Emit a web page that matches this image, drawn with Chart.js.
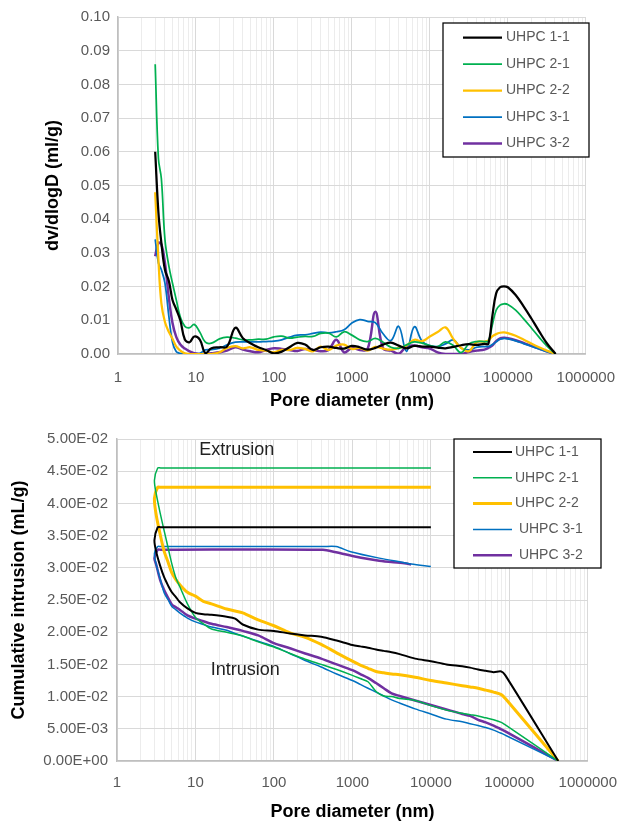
<!DOCTYPE html>
<html>
<head>
<meta charset="utf-8">
<script src="https://cdn.jsdelivr.net/npm/chart.js@4.4.1/dist/chart.umd.min.js"></script>
<style>
  body { margin: 0; background: #fff; }
  #wrap { position: relative; width: 630px; height: 821px; }
  canvas { position: absolute; left: 0; }
</style>
</head>
<body>
<div id="wrap">
  <canvas id="psdChart" width="630" height="410" style="top:0"></canvas>
  <canvas id="intrusionChart" width="630" height="411" style="top:410px"></canvas>
</div>
<script>
// ---- data ----
var seriesNames = ['UHPC 1-1', 'UHPC 2-1', 'UHPC 2-2', 'UHPC 3-1', 'UHPC 3-2'];
var seriesNamesBottom = ['UHPC 1-1', 'UHPC 2-1', 'UHPC 2-2', ' UHPC 3-1', ' UHPC 3-2'];
var seriesColors = ['#000000', '#00b050', '#ffc000', '#0070c0', '#7030a0'];

// top chart: dv/dlogD against pore diameter (nm)
var poreDiameterTop = [3, 3.3, 3.6, 4, 4.5, 5, 5.6, 6.3, 7.2, 8.3, 9.5, 11.2, 13.2, 15.8, 20, 25, 32, 40, 50, 63, 79,
  100, 126, 158, 200, 251, 316, 398, 501, 631, 794, 1000, 1259, 1585, 1995, 2512, 3162, 3981, 5012, 6310, 7943,
  10000, 12589, 15849, 19953, 25119, 31623, 39811, 50119, 56234, 63096, 70795, 79433, 89125,
  100000, 125893, 158489, 199526, 251189, 316228, 410000];
var dvUHPC11 = [0.060, 0.042, 0.033, 0.025, 0.0216, 0.016, 0.0132, 0.010, 0.0043, 0.0035, 0.0052, 0.0043, 0.0003, 0.0017,
  0.002, 0.0022, 0.0078, 0.0047, 0.0032, 0.002, 0.0012, 0.0002, 0.0007, 0.002, 0.0033, 0.0028, 0.0012, 0.002, 0.0022,
  0.0018, 0.0016, 0.0024, 0.002, 0.0013, 0.0018, 0.0028, 0.0034, 0.0025, 0.0017, 0.0024, 0.0022, 0.0022, 0.0019, 0.0017,
  0.0021, 0.0026, 0.0029, 0.0027, 0.003, 0.003, 0.011, 0.018, 0.0198, 0.0201, 0.0198, 0.0175, 0.0142, 0.0106, 0.0068,
  0.0032, 0];
var dvUHPC21 = [0.086, 0.058, 0.052, 0.034, 0.026, 0.021, 0.016, 0.011, 0.0082, 0.0078, 0.0088, 0.0065, 0.0035, 0.0032,
  0.0045, 0.005, 0.0047, 0.0042, 0.0042, 0.0044, 0.0044, 0.0051, 0.0053, 0.0047, 0.005, 0.0052, 0.0052, 0.0061, 0.0062,
  0.0051, 0.0066, 0.0056, 0.0042, 0.0037, 0.0046, 0.0035, 0.002, 0.0017, 0.0027, 0.0036, 0.0032, 0.0025, 0.0022, 0.0036,
  0.0025, 0.0004, 0.003, 0.0037, 0.0037, 0.0038, 0.0085, 0.013, 0.0145, 0.0149, 0.0147, 0.013, 0.0105, 0.0078, 0.005,
  0.0024, 0];
var dvUHPC22 = [0.048, 0.028, 0.015, 0.0095, 0.0065, 0.0045, 0.0022, 0.001, 0.0002, 0, 0, 0, 0, 0, 0.0005, 0.0018,
  0.0023, 0.0017, 0.002, 0.0012, 0.001, 0.0005, 0.0012, 0.0012, 0.0018, 0.0015, 0.0008, 0.0022, 0.0012, 0.0025, 0.0028,
  0.0015, 0.0018, 0.001, 0.0021, 0.0016, 0.0013, 0.0018, 0.0025, 0.0042, 0.0038, 0.0052, 0.0065, 0.0079, 0.0045, 0.0018,
  0.0008, 0.0035, 0.0037, 0.004, 0.0052, 0.0059, 0.0063, 0.0064, 0.0062, 0.0054, 0.0043, 0.0031, 0.002, 0.001, 0];
var dvUHPC31 = [0.034, 0.027, 0.025, 0.021, 0.011, 0.0035, 0.0007, 0.0002, 0, 0, 0, 0.0002, 0.0012, 0.0013, 0.0017,
  0.0027, 0.0035, 0.0036, 0.0036, 0.0036, 0.0037, 0.0038, 0.0042, 0.005, 0.0056, 0.0057, 0.0061, 0.0065, 0.0063, 0.0066,
  0.0072, 0.0092, 0.0102, 0.0097, 0.0093, 0.006, 0.004, 0.0082, 0.0008, 0.0081, 0.0038, 0.0025, 0.0022, 0.003, 0.0042,
  0.0018, 0.0012, 0.002, 0.0022, 0.0022, 0.0028, 0.0036, 0.0044, 0.0046, 0.0045, 0.0039, 0.0031, 0.0023, 0.0015, 0.0007, 0];
var dvUHPC32 = [0.029, 0.033, 0.0325, 0.027, 0.0165, 0.0092, 0.005, 0.0028, 0.0016, 0.0008, 0.0002, 0, 0, 0.0002, 0.0005,
  0.001, 0.002, 0.0013, 0.0008, 0.0005, 0.0012, 0.0017, 0.0015, 0.0012, 0.0009, 0.0015, 0.0012, 0.0008, 0.0012, 0.0042,
  0.0005, 0.0018, 0.0012, 0.0014, 0.0125, 0.0017, 0.001, 0.0001, 0.0022, 0.0025, 0.002, 0.0016, 0.0005, 0, 0, 0, 0.0006,
  0.001, 0.0013, 0.0018, 0.0025, 0.0038, 0.0046, 0.0048, 0.0047, 0.0041, 0.0033, 0.0024, 0.0016, 0.0008, 0];

// bottom chart: intrusion (large -> small pores), then extrusion back out to 10000 nm
var intrusionDiameter = [420000, 89000, 79000, 63000, 50000, 40000, 31600, 25100, 15800, 10000, 6300, 4000, 3160, 2510,
  2000, 1580, 1260, 1000, 630, 400, 250, 160, 100, 63, 40, 32, 25, 16, 12.6, 10, 7.9, 6.3, 5.6, 5.0, 4.5, 4.0, 3.55, 3.16, 3.0];
var intrUHPC11 = [0, 0.0133, 0.0139, 0.0138, 0.0140, 0.0142, 0.0145, 0.0147, 0.0150, 0.0155, 0.0159, 0.0166, 0.0169,
  0.0171, 0.0173, 0.0176, 0.0178, 0.0180, 0.0187, 0.0193, 0.0195, 0.0198, 0.0202, 0.0204, 0.0212, 0.0221, 0.0224, 0.0227,
  0.0228, 0.0230, 0.0237, 0.0247, 0.0255, 0.0262, 0.0272, 0.0285, 0.0303, 0.0325, 0.0343];
var intrUHPC21 = [0, 0.0056, 0.0060, 0.0064, 0.0067, 0.0070, 0.0072, 0.0074, 0.0079, 0.0086, 0.0094, 0.0097, 0.0100,
  0.0101, 0.0108, 0.0123, 0.0128, 0.0133, 0.0142, 0.0150, 0.0158, 0.0167, 0.0177, 0.0185, 0.0194, 0.0197, 0.0200, 0.0205,
  0.0213, 0.0223, 0.0244, 0.0271, 0.0285, 0.0306, 0.0330, 0.0357, 0.0385, 0.0415, 0.0436];
var intrUHPC22 = [0, 0.0097, 0.0103, 0.0107, 0.0110, 0.0113, 0.0115, 0.0117, 0.0121, 0.0125, 0.0130, 0.0134, 0.0135,
  0.0137, 0.0139, 0.0144, 0.0149, 0.0155, 0.0168, 0.0181, 0.0192, 0.0199, 0.0210, 0.0219, 0.0230, 0.0233, 0.0236, 0.0244,
  0.0248, 0.0256, 0.0262, 0.0274, 0.0282, 0.0292, 0.0308, 0.0325, 0.0352, 0.0382, 0.0408];
var intrUHPC31 = [0, 0.0040, 0.0043, 0.0048, 0.0052, 0.0055, 0.0058, 0.0061, 0.0065, 0.0073, 0.0081, 0.0090, 0.0095,
  0.0101, 0.0107, 0.0113, 0.0119, 0.0125, 0.0135, 0.0146, 0.0156, 0.0167, 0.0178, 0.0186, 0.0194, 0.0198, 0.0203, 0.0208,
  0.0212, 0.0216, 0.0222, 0.0230, 0.0235, 0.0240, 0.0250, 0.0261, 0.0283, 0.0305, 0.0322];
var intrUHPC32 = [0, 0.0046, 0.0049, 0.0055, 0.0060, 0.0064, 0.0070, 0.0073, 0.0080, 0.0087, 0.0094, 0.0101, 0.0105,
  0.0113, 0.0121, 0.0129, 0.0135, 0.0141, 0.0150, 0.0159, 0.0167, 0.0175, 0.0183, 0.0195, 0.0202, 0.0205, 0.0208, 0.0213,
  0.0217, 0.0221, 0.0226, 0.0235, 0.0239, 0.0243, 0.0253, 0.0265, 0.0281, 0.0305, 0.0315];

var extrusionDiameter = [3.3, 3.6, 420, 620, 950, 2200, 4600, 5600, 10000];
var extrUHPC11 = [0.0363, 0.0363, 0.0363, 0.0363, 0.0363, 0.0363, 0.0363, 0.0363, 0.0363];
var extrUHPC21 = [0.0455, 0.0455, 0.0455, 0.0455, 0.0455, 0.0455, 0.0455, 0.0455, 0.0455];
var extrUHPC22 = [0.0425, 0.0425, 0.0425, 0.0425, 0.0425, 0.0425, 0.0425, 0.0425, 0.0425];
var extrUHPC31 = [0.0333, 0.0333, 0.0333, 0.0333, 0.0325, 0.0315, 0.0308, 0.0306, 0.0302];
var extrUHPC32 = [0.0328, 0.0328, 0.0328, 0.0324, 0.0319, 0.0311, 0.0307, 0.0305, null];

var yTicksTop = { min: 0, max: 0.1, step: 0.01 };
var yTicksBottom = { min: 0, max: 0.05, step: 0.005 };

// log axis ticks 1..9 x 10^n, labels only at decades
var xTickValues = [];
for (var e = 0; e < 6; e++) {
  for (var m = 1; m < 10; m++) xTickValues.push(m * Math.pow(10, e));
}
xTickValues.push(1000000);

// ---- helpers ----
Chart.defaults.font.family = '"Liberation Sans", Arial, sans-serif';
Chart.defaults.color = '#595959';

function isDecade(v) {
  var l = Math.log10(v);
  return Math.abs(l - Math.round(l)) < 1e-9;
}

function toPoints(xs, ys) {
  return xs.map(function(x, i) { return { x: x, y: ys[i] }; });
}

function sciLabel(v) {
  if (Math.abs(v) < 1e-12) return '0.00E+00';
  var ex = Math.floor(Math.log10(Math.abs(v)) + 1e-9);
  var mant = v / Math.pow(10, ex);
  var s = String(Math.abs(ex));
  if (s.length < 2) s = '0' + s;
  return mant.toFixed(2) + 'E' + (ex < 0 ? '-' : '+') + s;
}

function xScale(labelPad, axisHeight) {
  return {
    type: 'logarithmic',
    min: 1,
    max: 1000000,
    afterBuildTicks: function(scale) {
      scale.ticks = xTickValues.map(function(v) { return { value: v, major: isDecade(v) }; });
    },
    afterFit: function(scale) { scale.height = axisHeight; },
    ticks: {
      autoSkip: false,
      maxRotation: 0,
      padding: labelPad,
      font: { size: 15 },
      color: '#595959',
      callback: function(value) { return isDecade(value) ? String(Math.round(value)) : ''; }
    },
    grid: {
      drawTicks: false,
      color: function(c) { return c.tick && c.tick.major ? '#d9d9d9' : '#ececec'; }
    },
    border: { color: '#bfbfbf', width: 1.5 },
    title: {
      display: true,
      text: 'Pore diameter (nm)',
      color: '#000',
      font: { size: 18, weight: 'bold', lineHeight: 1 },
      padding: { top: 0, bottom: 0 }
    }
  };
}

var boxLegend = {
  id: 'boxLegend',
  afterDraw: function(chart, args, opts) {
    var ctx = chart.ctx;
    ctx.save();
    ctx.fillStyle = '#ffffff';
    ctx.fillRect(opts.x, opts.y, opts.w, opts.h);
    ctx.strokeStyle = '#000000';
    ctx.lineWidth = 1.25;
    ctx.strokeRect(opts.x, opts.y, opts.w, opts.h);
    ctx.font = '14px "Liberation Sans", Arial, sans-serif';
    ctx.textBaseline = 'middle';
    chart.data.datasets.forEach(function(ds, i) {
      var y = opts.firstRow + i * opts.rowGap;
      ctx.strokeStyle = ds.borderColor;
      ctx.lineWidth = ds.borderWidth;
      ctx.beginPath();
      ctx.moveTo(opts.lineX1, y);
      ctx.lineTo(opts.lineX2, y);
      ctx.stroke();
      ctx.fillStyle = '#595959';
      ctx.fillText(ds.label, opts.textX, y);
    });
    ctx.restore();
  }
};

var notes = {
  id: 'notes',
  afterDatasetsDraw: function(chart, args, opts) {
    if (!opts.items) return;
    var ctx = chart.ctx, xs = chart.scales.x, ys = chart.scales.y;
    ctx.save();
    ctx.font = '18px "Liberation Sans", Arial, sans-serif';
    ctx.fillStyle = '#222222';
    ctx.textBaseline = 'middle';
    opts.items.forEach(function(n) {
      ctx.fillText(n.text, xs.getPixelForValue(n.x), ys.getPixelForValue(n.y));
    });
    ctx.restore();
  }
};

// ---- top chart ----
var topValues = [dvUHPC11, dvUHPC21, dvUHPC22, dvUHPC31, dvUHPC32];
var topWidths = [2.25, 1.75, 2.25, 1.75, 2.5];

new Chart(document.getElementById('psdChart').getContext('2d'), {
  type: 'line',
  data: {
    datasets: topValues.map(function(vals, i) {
      return {
        label: seriesNames[i],
        data: toPoints(poreDiameterTop, vals),
        borderColor: seriesColors[i],
        backgroundColor: seriesColors[i],
        borderWidth: topWidths[i],
        pointRadius: 0,
        tension: 0.4,
        fill: false
      };
    })
  },
  options: {
    responsive: false,
    animation: false,
    devicePixelRatio: 1,
    layout: { padding: { top: 17, right: 39, left: 0, bottom: 0 } },
    scales: {
      x: xScale(15, 56),
      y: {
        min: yTicksTop.min,
        max: yTicksTop.max,
        afterFit: function(scale) { scale.width = 118; },
        ticks: {
          stepSize: yTicksTop.step,
          padding: 8,
          font: { size: 15 },
          color: '#595959',
          callback: function(v) { return Number(v).toFixed(2); }
        },
        grid: { drawTicks: false, color: '#d9d9d9' },
        border: { color: '#bfbfbf', width: 1.5 },
        title: {
          display: true,
          text: 'dv/dlogD (ml/g)',
          color: '#000',
          font: { size: 18, weight: 'bold', lineHeight: 1 },
          padding: { top: 44, bottom: 0 }
        }
      }
    },
    plugins: {
      legend: { display: false },
      tooltip: { enabled: false },
      boxLegend: { x: 443, y: 23, w: 146, h: 134, firstRow: 37.5, rowGap: 26.5, lineX1: 463, lineX2: 502, textX: 506 }
    }
  },
  plugins: [boxLegend]
});

// ---- bottom chart ----
var intrValues = [intrUHPC11, intrUHPC21, intrUHPC22, intrUHPC31, intrUHPC32];
var extrValues = [extrUHPC11, extrUHPC21, extrUHPC22, extrUHPC31, extrUHPC32];
var bottomWidths = [2, 1.5, 3, 1.5, 2.5];

new Chart(document.getElementById('intrusionChart').getContext('2d'), {
  type: 'line',
  data: {
    datasets: intrValues.map(function(vals, i) {
      return {
        label: seriesNamesBottom[i],
        data: toPoints(intrusionDiameter, vals).concat(toPoints(extrusionDiameter, extrValues[i])),
        borderColor: seriesColors[i],
        backgroundColor: seriesColors[i],
        borderWidth: bottomWidths[i],
        pointRadius: 0,
        tension: 0.3,
        fill: false
      };
    })
  },
  options: {
    responsive: false,
    animation: false,
    devicePixelRatio: 1,
    layout: { padding: { top: 29, right: 33, left: 0, bottom: 0 } },
    scales: {
      x: xScale(13, 60),
      y: {
        min: yTicksBottom.min,
        max: yTicksBottom.max,
        afterFit: function(scale) { scale.width = 117; },
        ticks: {
          stepSize: yTicksBottom.step,
          padding: 9,
          font: { size: 15 },
          color: '#595959',
          callback: function(v) { return sciLabel(v); }
        },
        grid: { drawTicks: false, color: '#d9d9d9' },
        border: { color: '#bfbfbf', width: 1.5 },
        title: {
          display: true,
          text: 'Cumulative intrusion (mL/g)',
          color: '#000',
          font: { size: 18, weight: 'bold', lineHeight: 1 },
          padding: { top: 10, bottom: 0 }
        }
      }
    },
    plugins: {
      legend: { display: false },
      tooltip: { enabled: false },
      boxLegend: { x: 454, y: 29, w: 147, h: 129, firstRow: 42, rowGap: 25.8, lineX1: 473, lineX2: 512, textX: 515 },
      notes: { items: [{ text: 'Extrusion', x: 11.2, y: 0.0483 }, { text: 'Intrusion', x: 15.7, y: 0.0141 }] }
    }
  },
  plugins: [notes, boxLegend]
});
</script>
</body>
</html>
